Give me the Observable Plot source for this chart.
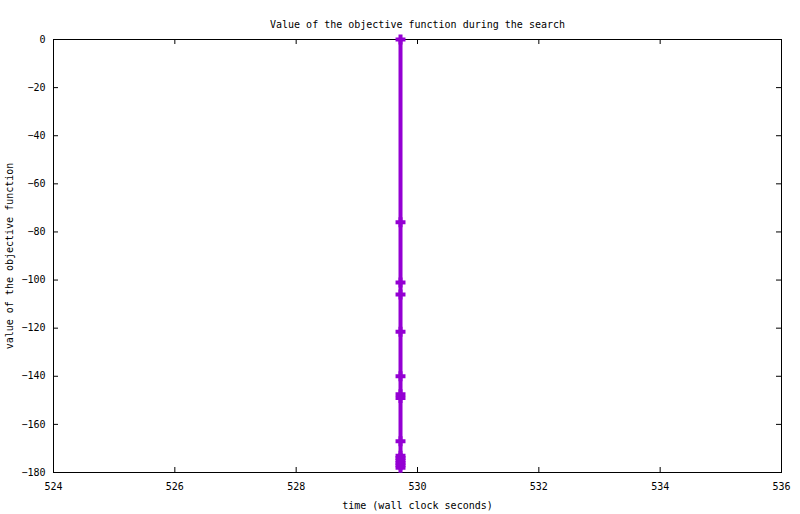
<!DOCTYPE html>
<html>
<head>
<meta charset="utf-8">
<script src="https://cdn.jsdelivr.net/npm/d3@7"></script>
<script src="https://cdn.jsdelivr.net/npm/@observablehq/plot@0.6"></script>
<style>
  body { margin: 0; background: #fff; }
</style>
</head>
<body>
<div id="chart"></div>
<script>
// objective value vs. wall clock time (all points land at ~529.72 s)
const times = [529.72, 529.72, 529.72, 529.72, 529.72, 529.72, 529.72, 529.72,
  529.72, 529.72, 529.72, 529.72, 529.72, 529.72, 529.72];
const values = [0, -76, -101, -106, -121.5, -140, -147.5, -149, -167,
  -173, -174, -175, -176, -177, -178];

const xTicks = [524, 526, 528, 530, 532, 534, 536];
const yTicks = [0, -20, -40, -60, -80, -100, -120, -140, -160, -180];

const points = times.map((t, i) => ({ time: t, value: values[i] }));

const W = 800, H = 514;
const mt = 39, mr = 19, mb = 42, ml = 53;
const innerW = W - ml - mr;
const innerH = H - mt - mb;
const tick = 5;
const purple = "#9400d3";

const plot = Plot.plot({
  width: W,
  height: H,
  marginTop: mt,
  marginRight: mr,
  marginBottom: mb,
  marginLeft: ml,
  style: { fontFamily: "DejaVu Sans Mono", fontSize: "10px", color: "black", background: "white" },
  x: { domain: [524, 536] },
  y: { domain: [-180, 0] },
  marks: [
    // inward ticks on all four sides (gnuplot style mirror ticks)
    Plot.gridX(xTicks, { insetTop: innerH - tick, stroke: "black", strokeOpacity: 1 }),
    Plot.gridX(xTicks, { insetBottom: innerH - tick, stroke: "black", strokeOpacity: 1 }),
    Plot.gridY(yTicks, { insetRight: innerW - tick, stroke: "black", strokeOpacity: 1 }),
    Plot.gridY(yTicks, { insetLeft: innerW - tick, stroke: "black", strokeOpacity: 1 }),
    Plot.frame({ stroke: "black" }),
    Plot.axisX({
      ticks: xTicks, tickSize: 0, tickPadding: 10,
      label: "time (wall clock seconds)", labelAnchor: "center", labelOffset: 36, labelArrow: "none"
    }),
    Plot.axisY({
      ticks: yTicks, tickSize: 0, tickPadding: 8,
      label: "value of the objective function", labelAnchor: "center", labelOffset: 48, labelArrow: "none"
    }),
    Plot.line(points, { x: "time", y: "value", stroke: purple, strokeWidth: 4 }),
    Plot.dot(points, { x: "time", y: "value", symbol: "plus", r: 3.3, stroke: purple, strokeWidth: 4 }),
    Plot.text(["Value of the objective function during the search"], {
      frameAnchor: "top", dy: -19, fontSize: 10
    })
  ]
});

document.querySelector("#chart").append(plot);
</script>
</body>
</html>
